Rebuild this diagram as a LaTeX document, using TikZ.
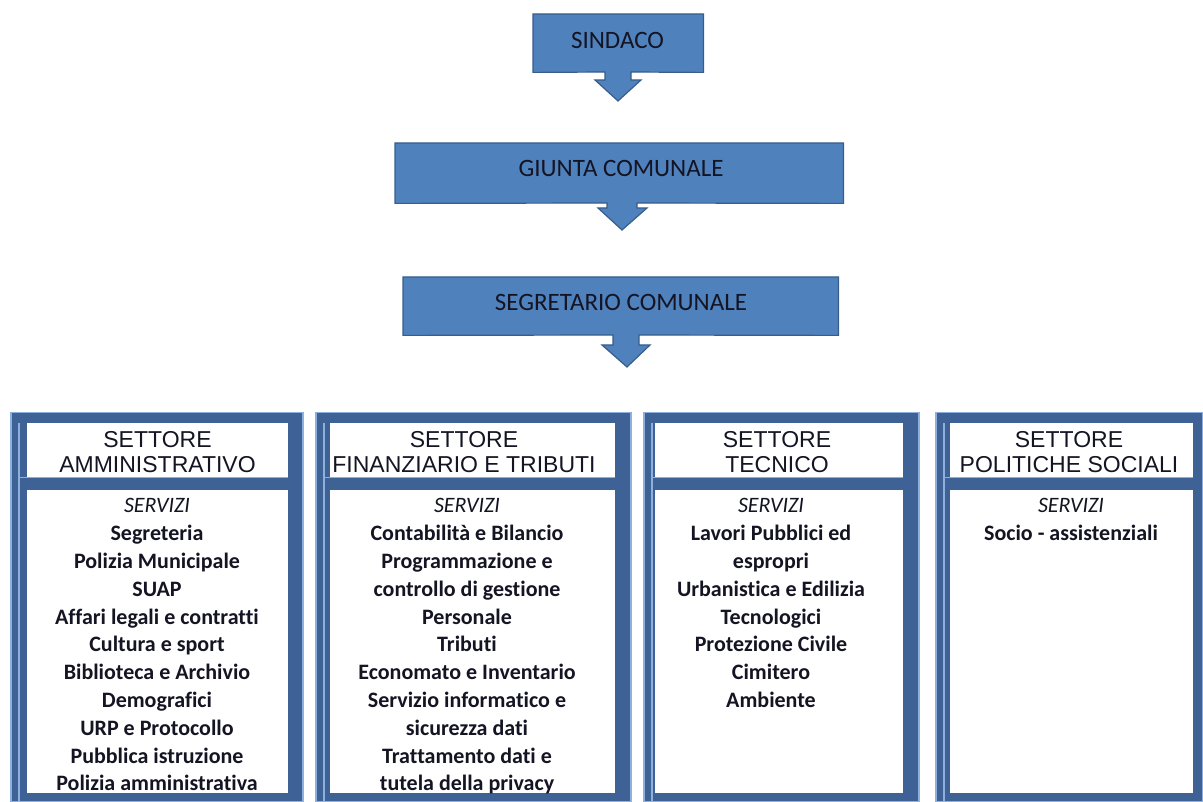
\documentclass[tikz,border=0pt]{standalone}
\usepackage{fontspec}
\newfontfamily\calfont[Ligatures=NoCommon]{Carlito}
\newfontfamily\arialfont{Liberation Sans}
\definecolor{callfill}{RGB}{79,129,189}
\definecolor{calldraw}{RGB}{56,93,138}
\definecolor{frameDark}{RGB}{62,98,150}
\definecolor{frameLight}{RGB}{141,176,222}
\definecolor{txt}{RGB}{20,20,35}
\begin{document}
\begin{tikzpicture}[x=1pt,y=-1pt,
  callbox/.style={draw=none, fill=none, inner sep=0, anchor=north west},
  callshape/.style={fill=callfill, draw=calldraw, line width=1.2pt, line join=miter},
  calltext/.style={font=\calfont\fontsize{25}{30}\selectfont, text=txt, anchor=base, inner sep=0},
  frame/.style={fill=frameDark, draw=frameLight, line width=1.5pt, anchor=north west, inner sep=0},
  panel/.style={fill=white, draw=none, anchor=north west, inner sep=0},
  lightline/.style={draw=frameLight, line width=1.3pt},
  headtext/.style={font=\arialfont\fontsize{23}{24.3}\selectfont, align=center, anchor=north, inner sep=0, text=txt},
  bodytext/.style={font=\calfont\bfseries\fontsize{22}{27.8}\selectfont, align=center, anchor=north, inner sep=0, text=txt},
]
\useasboundingbox (0,0) rectangle (1203,802);

% ---- SINDACO
\node[callbox, minimum width=170pt, minimum height=58pt] (sind) at (533,14) {};
\draw[callshape] (sind.north west) -- (sind.north east) -- (sind.south east)
  -- (631,72) -- (631,80) -- (641,80) -- (618,101) -- (595,80) -- (605,80) -- (605,72)
  -- (sind.south west) -- cycle;
\node[calltext] (sindt) at (617.5,48.3) {SINDACO};

% ---- GIUNTA
\node[callbox, minimum width=448pt, minimum height=60pt] (giun) at (395,143) {};
\draw[callshape] (giun.north west) -- (giun.north east) -- (giun.south east)
  -- (637,203) -- (637,208) -- (647,208) -- (622,230) -- (598,208) -- (607,208) -- (607,203)
  -- (giun.south west) -- cycle;
\node[calltext] (giunt) at (621,177) {GIUNTA COMUNALE};

% ---- SEGRETARIO
\node[callbox, minimum width=435pt, minimum height=58pt] (segr) at (403,277) {};
\draw[callshape] (segr.north west) -- (segr.north east) -- (segr.south east)
  -- (639,335) -- (639,345) -- (650,345) -- (627,367) -- (602,345) -- (613,345) -- (613,335)
  -- (segr.south west) -- cycle;
\node[calltext] (segrt) at (621,311) {SEGRETARIO COMUNALE};

% ---- frames
\node[frame, minimum width=292pt, minimum height=389pt] (c1) at (10,412) {};
\node[frame, minimum width=315pt, minimum height=389pt] (c2) at (315,412) {};
\node[frame, minimum width=275pt, minimum height=389pt] (c3) at (643,412) {};
\node[frame, minimum width=267pt, minimum height=389pt] (c4) at (935,412) {};
\foreach \l/\r in {10/288, 315/615, 643/903, 935/1193} {
  \draw[lightline] (\l+9,423) -- (\l+9,801);
  \draw[lightline] (\l+9,477.5) -- (\r,477.5);
}
% panels
\node[panel, minimum width=261pt, minimum height=54pt] (h1) at (27,423) {};
\node[panel, minimum width=261pt, minimum height=303pt] (b1) at (27,490) {};
\node[panel, minimum width=285pt, minimum height=54pt] (h2) at (330,423) {};
\node[panel, minimum width=285pt, minimum height=303pt] (b2) at (330,490) {};
\node[panel, minimum width=248pt, minimum height=54pt] (h3) at (655,423) {};
\node[panel, minimum width=248pt, minimum height=303pt] (b3) at (655,490) {};
\node[panel, minimum width=243pt, minimum height=54pt] (h4) at (950,423) {};
\node[panel, minimum width=243pt, minimum height=303pt] (b4) at (950,490) {};

% headers
\node[headtext] (t1) at (157.5,431.5) {SETTORE\\AMMINISTRATIVO};
\node[headtext] (t2) at (464,431.5) {SETTORE\\FINANZIARIO E TRIBUTI};
\node[headtext] (t3) at (777,431.5) {SETTORE\\TECNICO};
\node[headtext] (t4) at (1069,431.5) {SETTORE\\POLITICHE SOCIALI};

% bodies
\node[bodytext] (s1) at (157,498.5) {{\mdseries\itshape SERVIZI}\\Segreteria\\Polizia Municipale\\SUAP\\Affari legali e contratti\\Cultura e sport\\Biblioteca e Archivio\\Demografici\\URP e Protocollo\\Pubblica istruzione\\Polizia amministrativa};
\node[bodytext] (s2) at (467,498.5) {{\mdseries\itshape SERVIZI}\\Contabilità e Bilancio\\Programmazione e\\controllo di gestione\\Personale\\Tributi\\Economato e Inventario\\Servizio informatico e\\sicurezza dati\\Trattamento dati e\\tutela della privacy};
\node[bodytext] (s3) at (771,498.5) {{\mdseries\itshape SERVIZI}\\Lavori Pubblici ed\\espropri\\Urbanistica e Edilizia\\Tecnologici\\Protezione Civile\\Cimitero\\Ambiente};
\node[bodytext] (s4) at (1071,498.5) {{\mdseries\itshape SERVIZI}\\Socio - assistenziali};
\end{tikzpicture}
\end{document}
